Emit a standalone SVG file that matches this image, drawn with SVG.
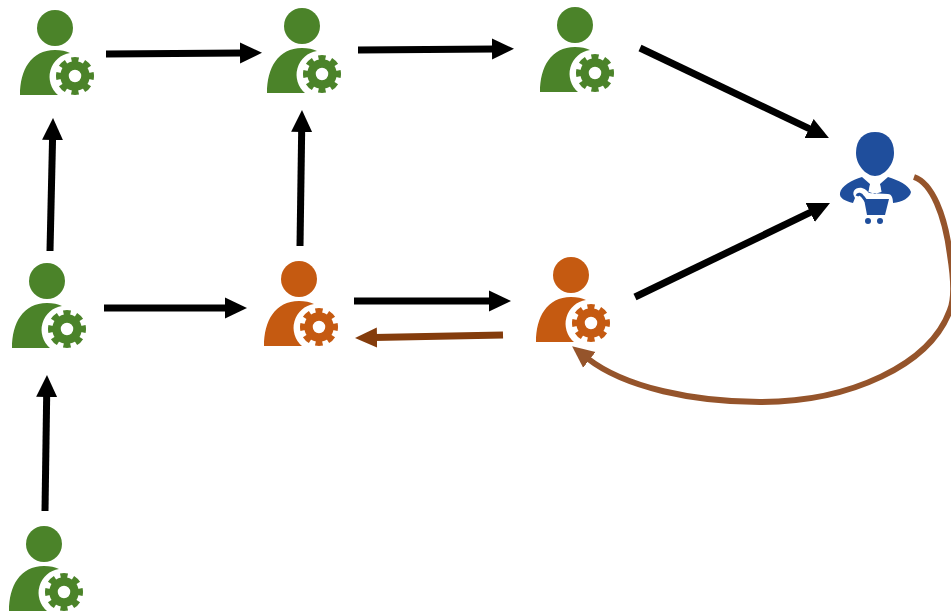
<svg xmlns="http://www.w3.org/2000/svg" width="951" height="613" viewBox="0 0 951 613">
<style>
.g{fill:#4b8329;color:#4b8329}
.o{fill:#c55a11;color:#c55a11}
.a{fill:none;stroke:#000;stroke-width:7}
.r{fill:none;stroke:#843c0c;stroke-width:7}
.c{fill:none;stroke:#95542b;stroke-width:6}
.blue{fill:#1f4e9c}
.gap{fill:none;stroke:#fff;stroke-width:1.2}
</style>
<defs>
<marker id="hk" markerUnits="userSpaceOnUse" markerWidth="24" markerHeight="24" refX="3" refY="12" orient="auto"><path d="M0,1.5 L22,12 L0,22.5 Z" fill="#000"/></marker>
<marker id="hr" markerUnits="userSpaceOnUse" markerWidth="24" markerHeight="24" refX="3" refY="12" orient="auto"><path d="M0,2 L22,12 L0,22 Z" fill="#843c0c"/></marker>
<marker id="hc" markerUnits="userSpaceOnUse" markerWidth="24" markerHeight="24" refX="3" refY="12" orient="auto"><path d="M0,2 L22,12 L0,22 Z" fill="#95542b"/></marker>
<symbol id="person" overflow="visible">
<circle cx="55" cy="28" r="18" fill="currentColor"/>
<path d="M20,95 C20,70 31,50 55,50 C61,50 66,51 70,53 A24,24 0 0 0 58,95 Z" fill="currentColor"/>
<circle cx="75" cy="76" r="10.5" fill="none" stroke="currentColor" stroke-width="8.5"/>
<circle cx="75" cy="76" r="16" fill="none" stroke="currentColor" stroke-width="6" pathLength="80" stroke-dasharray="5.6 4.4" stroke-dashoffset="2.8"/>
</symbol>
</defs>
<g id="connectors">
<path class="a" marker-end="url(#hk)" d="M106,54 L243,53"/>
<path class="a" marker-end="url(#hk)" d="M358,50 L495,49"/>
<path class="a" marker-end="url(#hk)" d="M640,48 L811.8,129.8"/>
<path class="a" marker-end="url(#hk)" d="M635,297 L812.9,211.2"/>
<path class="a" marker-end="url(#hk)" d="M50,251 L52.6,137"/>
<path class="a" marker-end="url(#hk)" d="M300,246 L301.7,129"/>
<path class="a" marker-end="url(#hk)" d="M104,308 L228,308"/>
<path class="a" marker-end="url(#hk)" d="M354,301 L492,301"/>
<path class="r" marker-end="url(#hr)" d="M503,335 L374,337.6"/>
<path class="a" marker-end="url(#hk)" d="M45,511 L46.7,394"/>
<path class="c" marker-end="url(#hc)" d="M914,177 C932,183 945,215 950,255 C954,280 955,298 950,310 C930,365 850,402 760,402 C695,402 625,388 587,358"/>
</g>
<g id="node1" class="g"><use href="#person" x="0" y="0"/></g>
<g id="node2" class="g"><use href="#person" x="247" y="-2"/></g>
<g id="node3" class="g"><use href="#person" x="520" y="-3"/></g>
<g id="node4" class="g"><use href="#person" x="-8" y="253"/></g>
<g id="node5" class="o"><use href="#person" x="244" y="251"/></g>
<g id="node6" class="o"><use href="#person" x="516" y="247"/></g>
<g id="node7" class="g"><use href="#person" x="-11" y="516"/></g>
<g id="node8" class="blue">
<path d="M856,153 C856,139 864,132 875,132 C886,132 894,139 894,153 C894,165 884,176 875,176 C866,176 856,165 856,153 Z"/>
<path d="M862,177 C852,180 841,186 840,193 C839,198 845,201 853,203 L855,198 C851,192 855,187 862,188 C866,189 868,192 869,193 L888,194 C891,194 893,197 893,203 C902,202 910,198 911,192 C909,185 898,180 888,177 L880,184 L881,192 L875,194 L869,192 L870,184 Z"/>
<path class="gap" d="M871,183 L869,192 M879,183 L881,192"/>
<path d="M857,196 C858,193 861,194 863,197 L866,201" fill="none" stroke="#fff" stroke-width="7"/>
<path d="M857,196 C858,193 861,194 863,197 L866,201" fill="none" stroke="#1f4e9c" stroke-width="3"/>
<path d="M864,199 L889,199 L885,215 L867,215 Z"/>
<circle cx="868" cy="221" r="3"/><circle cx="880" cy="221" r="3"/>
</g>
</svg>
